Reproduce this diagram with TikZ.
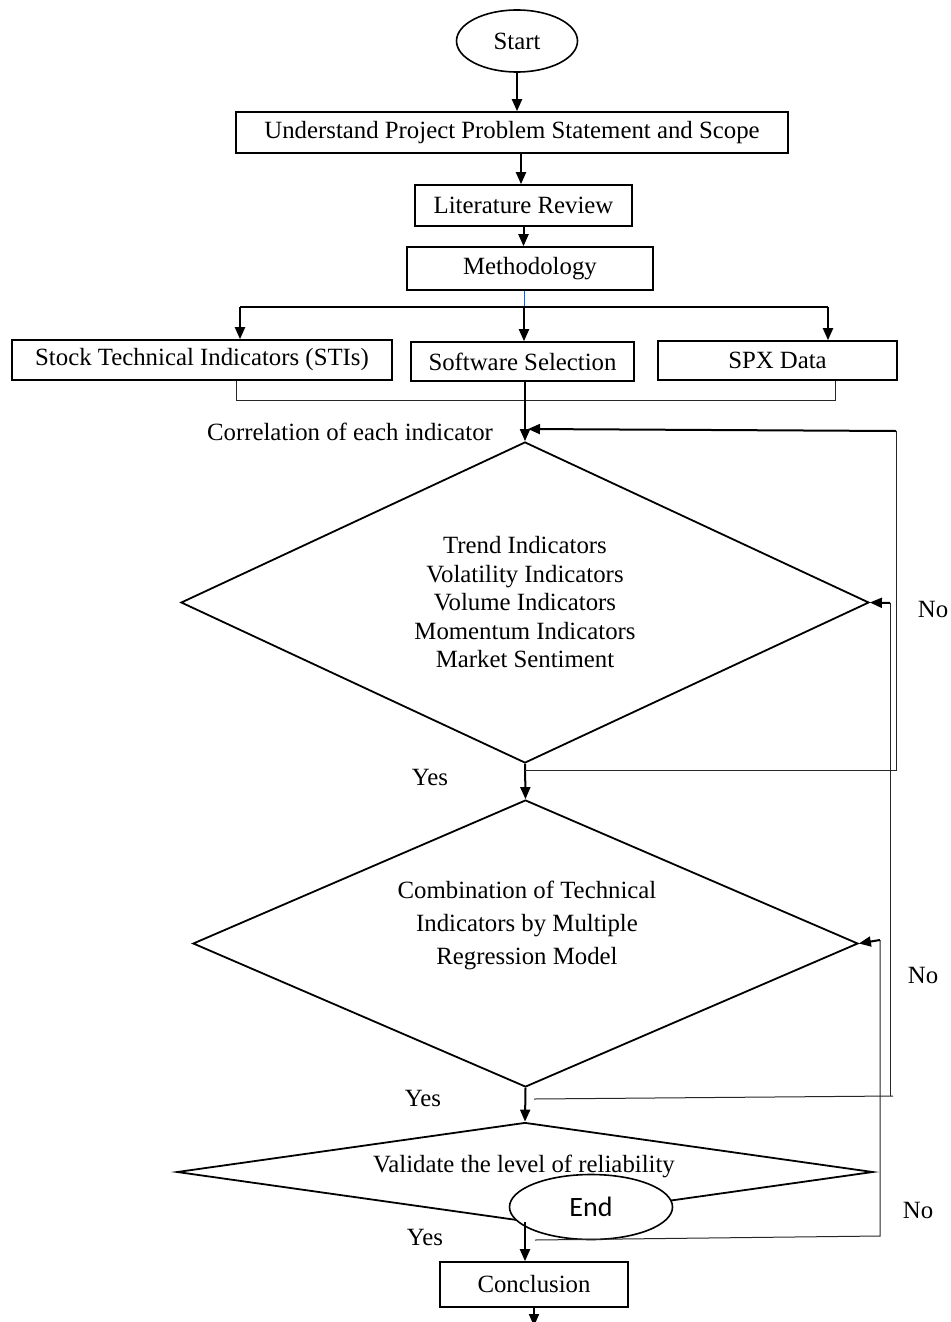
\documentclass[tikz,border=0pt]{standalone}
\usepackage{fontspec}
\setmainfont{Liberation Serif}
\newfontfamily\endfont{Carlito}
\usetikzlibrary{shapes.geometric,arrows.meta,calc}
\begin{document}
\begin{tikzpicture}[x=0.5pt,y=-0.5pt,
  font=\fontsize{12.4}{14}\selectfont,
  box/.style={draw,line width=0.8pt,rectangle,inner sep=0pt},
  oval/.style={draw,line width=0.8pt,ellipse,inner sep=0pt},
  dia/.style={draw,line width=0.9pt,diamond,inner sep=0pt},
  arr/.style={line width=1pt,-{Triangle[length=6pt,width=5pt]}},
  thin line/.style={line width=0.5pt,draw=black!85},
  lbl/.style={inner sep=0pt}]
\useasboundingbox (0,0) rectangle (950,1322);

% nodes
\node[oval,minimum width=60.5pt,minimum height=31pt] (start) at (517,41) {Start};
\node[box,minimum width=276pt,minimum height=20.5pt] (b1) at (512,132.5) {Understand Project Problem Statement and Scope};
\node[box,minimum width=108.5pt,minimum height=20.5pt] (b2) at (523.5,205.5) {Literature Review};
\node[box,minimum width=123pt,minimum height=21.5pt] (b3) at (530,268.5) {Methodology};
\node[box,minimum width=190pt,minimum height=20pt] (sti) at (202,360) {Stock Technical Indicators (STIs)};
\node[box,minimum width=111.5pt,minimum height=19.5pt] (sw) at (522.5,361.5) {Software Selection};
\node[box,minimum width=119.5pt,minimum height=19.5pt] (spx) at (777.5,360.5) {SPX Data};

\node[dia,aspect=2.14,minimum width=344pt,minimum height=160.5pt,align=center,
      font=\fontsize{12.4}{14.25}\selectfont] (d1) at (525,602.5)
  {Trend Indicators\\Volatility Indicators\\Volume Indicators\\Momentum Indicators\\Market Sentiment};
\node[dia,aspect=2.32,minimum width=332.5pt,minimum height=143.5pt] (d2) at (525.5,943.5) {};
\node[lbl,align=center,font=\fontsize{12.4}{16.5}\selectfont] (d2t) at (527,925)
  {Combination of Technical\\Indicators by Multiple\\Regression Model};
\node[dia,aspect=7,minimum width=348pt,minimum height=49.5pt] (d3) at (525,1172) {};
\node[lbl] (d3t) at (524,1166) {Validate the level of reliability};
\node[oval,fill=white,minimum width=81.5pt,minimum height=32.5pt] (end) at (591,1207) {\endfont\fontsize{14}{16}\selectfont End};
\node[box,minimum width=94pt,minimum height=22.5pt] (conc) at (534,1284.5) {Conclusion};

% labels
\node[lbl] (corr) at (350,432) {Correlation of each indicator};
\node[lbl] (yes1) at (430,777) {Yes};
\node[lbl] (yes2) at (423,1098) {Yes};
\node[lbl] (yes3) at (425,1237) {Yes};
\node[lbl] (no1) at (933,609) {No};
\node[lbl] (no2) at (923,975) {No};
\node[lbl] (no3) at (918,1210) {No};

% main flow
\draw[arr] (start.south) -- (start.south |- b1.north);
\draw[arr] (b1.south -| 521,0) -- (b2.north -| 521,0);
\draw[arr] (b2.south) -- (b2.south |- b3.north);
\coordinate (split) at (524,307);
\draw[line width=0.5pt,draw=blue!60!cyan] (b3.south -| split) -- (split);
\coordinate (spl) at (240,307);
\coordinate (spr) at (828,307);
\draw[line width=1pt] (spl) -- (spr);
\draw[arr] (spl) -- (sti.north -| spl);
\draw[arr] (split) -- (sw.north -| split);
\draw[arr] (spr) -- (spx.north -| spr);

% merge lines
\coordinate (ml) at (236,400);
\coordinate (mr) at (835,400);
\draw[thin line] (sti.south -| ml) -- (ml) -- (mr) -- (spx.south -| mr);
\draw[arr] (sw.south -| d1.north) -- (d1.north);

% diamond flow
\draw[arr] (d1.south) -- (d2.north);
\draw[arr] (d2.south) -- (d3.north);
\draw[arr] (d3.south) -- (d3.south |- conc.north);
\coordinate (out) at (534,1326);
\draw[arr] (conc.south) -- (out);

% loop 1 (No from first decision)
\coordinate (l1a) at (525,770);
\coordinate (l1b) at (896,770);
\coordinate (l1c) at (896,431);
\coordinate (l1d) at (528,429);
\draw[thin line] (l1a) -- (l1b) -- (l1c);
\draw[arr] (l1c) -- (l1d);

% loop 2 (No from second decision)
\coordinate (l2a) at (534,1099);
\coordinate (l2b) at (893,1096);
\coordinate (l2c) at (890,1096);
\coordinate (l2d) at (890,603);
\draw[thin line] (l2a) -- (l2b);
\draw[thin line] (l2c) -- (l2d);
\draw[arr] (l2d) -- (d1.east);

% loop 3 (No from third decision)
\coordinate (l3a) at (535,1240);
\coordinate (l3b) at (880,1236);
\coordinate (l3c) at (880,940);
\draw[thin line] (l3a) -- (l3b) -- (l3c);
\draw[arr] (l3c) -- (d2.east);
\end{tikzpicture}
\end{document}
